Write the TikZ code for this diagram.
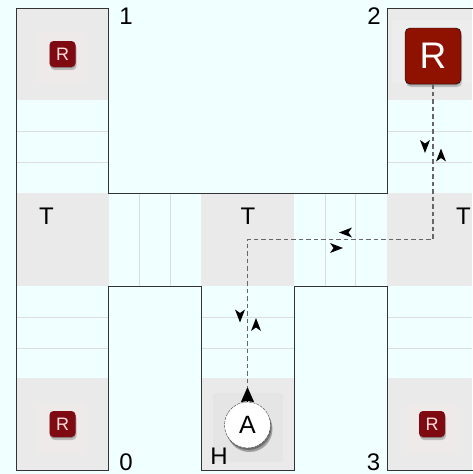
\documentclass[tikz,border=0pt]{standalone}
\usepackage{fontspec}
\setmainfont{Liberation Sans}
\usetikzlibrary{arrows.meta,positioning,shadows}
\definecolor{floorcyan}{HTML}{F0FFFF}
\definecolor{cellgray}{HTML}{EAEAEA}
\definecolor{lanegray}{HTML}{DDDDDD}
\definecolor{wallgray}{HTML}{333333}
\definecolor{routegray}{HTML}{666666}
\definecolor{robotred}{HTML}{8F1200}
\definecolor{tokenred}{HTML}{7F0A12}
\definecolor{patchgray}{HTML}{EEEAEA}

\begin{document}
\begin{tikzpicture}[x=1pt,y=-1pt,
  softshadow/.style={drop shadow={shadow xshift=0pt,shadow yshift=-1pt,opacity=.25,fill=black},
                     drop shadow={shadow xshift=1pt,shadow yshift=-3pt,opacity=.2,fill=black}},
  lbl/.style={font=\fontsize{24}{24}\selectfont,inner sep=0pt,text=black},
  bigrobot/.style={rectangle,rounded corners=5pt,minimum size=56pt,inner sep=0pt,fill=robotred,
                   draw=black,text=white,font=\fontsize{37}{37}\selectfont,softshadow},
  smallrobot/.style={rectangle,rounded corners=4pt,minimum size=26pt,inner sep=0pt,fill=tokenred,
                     text=white!88!red,font=\fontsize{18}{18}\selectfont,softshadow},
  agentdisc/.style={circle,minimum size=46pt,inner sep=0pt,fill=white,draw=black!75,
                    dash pattern=on 3pt off 1pt,font=\fontsize{25}{25}\selectfont,
                    drop shadow={shadow xshift=1pt,shadow yshift=-2pt,opacity=.3,fill=black},
                    drop shadow={shadow xshift=2pt,shadow yshift=-4pt,opacity=.3,fill=black}},
  route/.style={routegray,line width=1.2pt,dash pattern=on 4.5pt off 3pt},
  lane/.style={lanegray,line width=1pt},
  arrowmark/.pic={\fill[black] (0,6.5) -- (-5,-6.5) -- (0,-3) -- (5,-6.5) -- cycle;}
]
\useasboundingbox (0,0) rectangle (472,474);
\fill[floorcyan] (0,0) rectangle (472,474);

% ---- Gray cells ---------------------------------------------
\foreach \xa/\xb in {16/108.5,387/472}
  \fill[cellgray] (\xa,8) rectangle (\xb,100);
\foreach \xa/\xb in {16/108.5,201/294,387/472} {
  \fill[cellgray] (\xa,193) rectangle (\xb,286);
  \fill[cellgray] (\xa,378) rectangle (\xb,470);
}

% ---- Lanes --------------------------------------------------
\foreach \xa/\xb in {16/108.5,387/472}
  \foreach \y in {131,162}
    \draw[lane] (\xa,\y) -- (\xb,\y);
\foreach \xa/\xb in {16/108.5,201/294,387/472}
  \foreach \y in {317,348}
    \draw[lane] (\xa,\y) -- (\xb,\y);
\foreach \x in {139.5,170.5,325,355.5}
  \draw[lane] (\x,193) -- (\x,286);

% ---- Walls --------------------------------------------------
\draw[wallgray,line width=1pt] (473,8) -- (387,8) -- (387,193) -- (108.5,193) -- (108.5,8)
  -- (16,8) -- (16,470) -- (108.5,470) -- (108.5,286) -- (201,286) -- (201,470)
  -- (294,470) -- (294,286) -- (387,286) -- (387,470) -- (473,470);

% ---- Icon patches -------------------------------------------
\fill[patchgray] (37,33) rectangle (87,83);
\fill[patchgray] (37,404) rectangle (87,454);
\fill[patchgray] (407,404) rectangle (457,454);
\fill[black!10] (213,393) rectangle (283,462);
\fill[black!7] (392,20) rectangle (472,83);

% ---- Robots and agent ---------------------------------------
\node[smallrobot] (r1) at (62.5,54) {R};
\node[smallrobot] (r0) at (62.5,424) {R};
\node[smallrobot] (r3) at (432,424) {R};
\node[bigrobot]   (r2) at (433,56) {R};
\node[agentdisc]  (agent) at (247.5,425) {A};

% ---- Route --------------------------------------------------
\coordinate (bendR) at (433,239.5);
\coordinate (bendA) at (247.5,239.5);
\coordinate (headA) at (247.5,387);
\draw[route] (r2.south) -- (bendR) -- (bendA) -- (headA);
\draw[black,line width=1pt,-{Stealth[length=15pt,width=13pt,inset=1pt]}] (agent.north) -- (headA);

% ---- Direction marks ----------------------------------------
\pic at (425,146.5) {arrowmark};
\pic[rotate=180] at (441,155) {arrowmark};
\pic[rotate=-90] at (345.5,232.5) {arrowmark};
\pic[rotate=90] at (336.5,248) {arrowmark};
\pic at (240,316) {arrowmark};
\pic[rotate=180] at (256,324.5) {arrowmark};

% ---- Labels -------------------------------------------------
\node[lbl] (n1) at (126,16.5) {1};
\node[lbl] (n2) at (374,16.5) {2};
\node[lbl] (n0) at (126,462) {0};
\node[lbl] (n3) at (373.5,462) {3};
\node[lbl] (home) at (219,456) {H};
\node[lbl] (t1) at (46.5,216.5) {T};
\node[lbl] (t2) at (248,216.5) {T};
\node[lbl] (t3) at (463.5,216.5) {T};

\end{tikzpicture}
\end{document}
